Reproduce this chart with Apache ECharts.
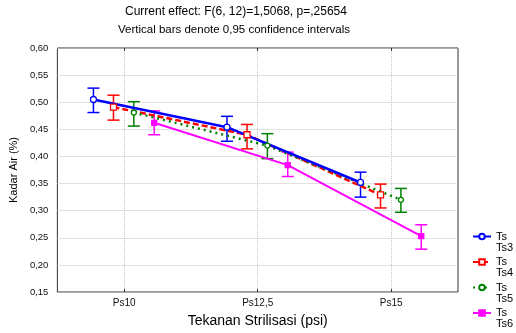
<!DOCTYPE html>
<html><head><meta charset="utf-8">
<script src="https://cdn.jsdelivr.net/npm/echarts@6/dist/echarts.min.js"></script>
<style>html,body{margin:0;padding:0;background:#fff}#c{width:516px;height:333px}</style>
</head><body><div id="c"></div>
<script>
const categories = ['Ps10', 'Ps12,5', 'Ps15'];
const yTicks = [0.15, 0.60, 0.05];
const seriesNames = ['Ts\nTs3', 'Ts\nTs4', 'Ts\nTs5', 'Ts\nTs6'];
const ts3Mean = [0.505, 0.454, 0.352];
const ts3Low  = [0.481, 0.428, 0.325];
const ts3High = [0.526, 0.474, 0.371];
const ts4Mean = [0.491, 0.440, 0.329];
const ts4Low  = [0.467, 0.414, 0.305];
const ts4High = [0.513, 0.459, 0.349];
const ts5Mean = [0.481, 0.420, 0.320];
const ts5Low  = [0.456, 0.396, 0.297];
const ts5High = [0.501, 0.442, 0.341];
const ts6Mean = [0.462, 0.384, 0.253];
const ts6Low  = [0.440, 0.363, 0.229];
const ts6High = [0.484, 0.408, 0.274];

// styling / layout (not data)
const offsets = [-0.46, -0.16, 0.145, 0.45];
const colors = ['#0000ff', '#ff0000', '#008000', '#ff00ff'];
const styles = [
  {type: 'solid', width: 2.5, symbol: 'circle', size: 6, fill: '#fff'},
  {type: [6, 3], width: 2.5, symbol: 'rect', size: 6, fill: '#fff'},
  {type: [2, 4], width: 2.5, symbol: 'circle', size: 5, fill: '#fff'},
  {type: 'solid', width: 2, symbol: 'rect', size: 5, fill: '#ff00ff'}
];
const groups = [
  [ts3Mean, ts3Low, ts3High],
  [ts4Mean, ts4Low, ts4High],
  [ts5Mean, ts5Low, ts5High],
  [ts6Mean, ts6Low, ts6High]
];

const axisCats = [''];
categories.forEach(c => { axisCats.push(c, ''); });
const odd = i => i % 2 === 1;
const fmt = v => v.toFixed(2).replace('.', ',');
const FONT = 'Liberation Sans, Arial, sans-serif';

const series = [];
const order = [3, 1, 2, 0];
order.forEach(g => {
  const [m, lo, hi] = groups[g];
  series.push({
    type: 'custom', xAxisIndex: 2, yAxisIndex: 0, silent: true, z: 2,
    data: m.map((v, i) => [2 * i + 1 + offsets[g], lo[i], hi[i]]),
    encode: {x: 0, y: [1, 2]},
    renderItem: (params, api) => {
      const x = api.value(0);
      const pT = api.coord([x, api.value(2)]);
      const pB = api.coord([x, api.value(1)]);
      const w = 6;
      const s = {stroke: colors[g], lineWidth: 1.5};
      return {type: 'group', children: [
        {type: 'line', shape: {x1: pT[0], y1: pT[1], x2: pB[0], y2: pB[1]}, style: s},
        {type: 'line', shape: {x1: pT[0] - w, y1: pT[1], x2: pT[0] + w, y2: pT[1]}, style: s},
        {type: 'line', shape: {x1: pB[0] - w, y1: pB[1], x2: pB[0] + w, y2: pB[1]}, style: s}
      ]};
    }
  });
});
order.forEach(g => {
  const [m] = groups[g];
  const st = styles[g];
  series.push({
    type: 'line', name: seriesNames[g], xAxisIndex: 2, yAxisIndex: 0, z: 3,
    data: m.map((v, i) => [2 * i + 1 + offsets[g], v]),
    symbol: st.symbol, symbolSize: st.size, showSymbol: true,
    lineStyle: {color: colors[g], width: st.width, type: st.type},
    itemStyle: {color: st.fill, borderColor: colors[g], borderWidth: 1.3},
    emphasis: {disabled: true}
  });
});

const chart = echarts.init(document.getElementById('c'), null, {renderer: 'canvas'});
chart.setOption({
  animation: false,
  title: [
    {text: 'Current effect: F(6, 12)=1,5068, p=,25654', left: 125, top: 6, padding: 0,
     textStyle: {fontSize: 12, fontWeight: 'normal', color: '#000', fontFamily: FONT}},
    {text: 'Vertical bars denote 0,95 confidence intervals', left: 118, top: 24, padding: 0,
     textStyle: {fontSize: 11.5, fontWeight: 'normal', color: '#000', fontFamily: FONT}}
  ],
  grid: {left: 57, right: 58, top: 48, bottom: 40, show: true, borderColor: '#333', borderWidth: 1, backgroundColor: 'transparent'},
  legend: {
    orient: 'vertical', left: 472, top: 220, height: 200, padding: 0,
    itemWidth: 18, itemHeight: 7, itemGap: -7.5,
    data: seriesNames,
    formatter: name => ' \n' + name,
    textStyle: {fontSize: 11, lineHeight: 11, color: '#000', fontFamily: FONT}
  },
  xAxis: [
    {type: 'category', data: axisCats, boundaryGap: false, position: 'bottom',
     name: 'Tekanan Strilisasi (psi)', nameLocation: 'middle', nameGap: 22,
     nameTextStyle: {fontSize: 14, color: '#000', fontFamily: FONT},
     axisLine: {show: false},
     axisTick: {show: true, inside: true, length: 3, interval: odd, lineStyle: {color: '#333'}},
     axisLabel: {interval: odd, fontSize: 10, color: '#111', margin: 6, fontFamily: FONT},
     splitLine: {show: true, interval: odd, lineStyle: {type: 'dotted', color: '#c4c4c4', width: 1}}},
    {type: 'category', data: axisCats, boundaryGap: false, position: 'top',
     axisLine: {show: false},
     axisTick: {show: true, inside: true, length: 3, interval: odd, lineStyle: {color: '#333'}},
     axisLabel: {show: false}, splitLine: {show: false}},
    {type: 'value', min: 0, max: 2 * categories.length, show: false}
  ],
  yAxis: [{
    type: 'value', min: yTicks[0], max: yTicks[1], interval: yTicks[2],
    name: 'Kadar Air (%)', nameLocation: 'middle', nameGap: 30, nameRotate: 90,
    nameTextStyle: {fontSize: 11, color: '#000', fontFamily: FONT},
    axisLine: {show: false}, axisTick: {show: false},
    axisLabel: {fontSize: 9.5, color: '#111', margin: 9, formatter: fmt, fontFamily: FONT},
    splitLine: {show: true, lineStyle: {type: 'dotted', color: '#c4c4c4', width: 1}}
  }],
  series: series
});
</script></body></html>
